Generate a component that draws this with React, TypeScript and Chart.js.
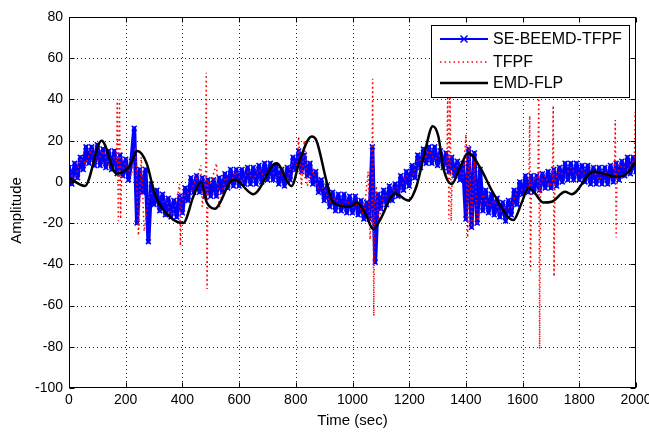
import React, { useEffect, useRef } from "react";
import { Chart, registerables } from "chart.js";

Chart.register(...registerables);

// ---- axis definitions ----
const X_MIN = 0;
const X_MAX = 2000;
const X_STEP = 200;
const Y_MIN = -100;
const Y_MAX = 80;
const Y_STEP = 20;

const X_TITLE = "Time (sec)";
const Y_TITLE = "Amplitude";
const legendLabels = ["SE-BEEMD-TFPF", "TFPF", "EMD-FLP"];

// ---- SE-BEEMD-TFPF (sampled every 10 s, starting at 0) ----
const SE_SAMPLE_STEP = 10;
const seBeemdValues = [
  7, -1, 9, 2, 12, 6, 17, 9, 17, 8,
  18, 8, 16, 7, 15, 6, 15, 4, 13, 3,
  11, 1, 10, 26, -20, 6, -5, 6, -29, -1,
  -11, -4, -14, -6, -16, -8, -17, -9, -17, -7,
  -15, -3, -9, 2, -5, 3, -5, 2, -7, 1,
  -7, 1, -7, 2, -5, 4, -3, 6, -2, 6,
  -2, 6, -1, 7, -1, 7, -1, 8, 0, 9,
  1, 9, 1, 8, -1, 6, -2, 7, 1, 12,
  6, 15, 5, 13, 3, 9, -1, 5, -5, 1,
  -9, -2, -12, -5, -14, -6, -14, -6, -15, -7,
  -15, -7, -16, -9, -18, -10, -18, 17, -39, -6,
  -13, -4, -11, -2, -9, -1, -7, 3, -4, 5,
  -2, 8, 2, 13, 7, 16, 9, 17, 9, 17,
  8, 15, 7, 14, 5, 12, 3, 10, 1, 9,
  -18, 16, -22, 14, -20, 6, -14, -4, -15, -6,
  -16, -8, -17, -10, -19, -9, -16, -4, -11, 0,
  -6, 3, -5, 3, -5, 3, -4, 4, -3, 5,
  -3, 6, -2, 7, 0, 9, 1, 9, 1, 9,
  1, 8, 0, 8, -1, 7, -1, 7, -1, 7,
  -1, 8, 0, 9, 1, 10, 3, 12, 4, 12,
  5,
];

// ---- TFPF ----
const tfpfTime = [
  0, 20, 40, 60, 80, 100, 120, 140, 160, 168,
  170, 174, 178, 182, 186, 200, 220, 235, 245, 255,
  265, 280, 300, 320, 340, 360, 380, 390, 393, 397,
  410, 430, 450, 465, 470, 482, 484, 487, 490, 500,
  520, 530, 550, 570, 590, 610, 630, 650, 670, 690,
  710, 730, 750, 770, 790, 805, 810, 820, 830, 840,
  860, 880, 900, 920, 940, 960, 980, 1000, 1020, 1040,
  1055, 1062, 1068, 1071, 1075, 1078, 1084, 1092, 1110, 1130,
  1150, 1170, 1190, 1210, 1230, 1250, 1270, 1290, 1310, 1325,
  1333, 1336, 1340, 1344, 1348, 1352, 1370, 1390, 1400, 1406,
  1412, 1420, 1430, 1440, 1460, 1480, 1500, 1520, 1540, 1560,
  1580, 1600, 1622, 1625, 1628, 1631, 1645, 1654, 1657, 1660,
  1663, 1680, 1695, 1705, 1708, 1711, 1714, 1730, 1750, 1770,
  1790, 1810, 1830, 1850, 1870, 1890, 1910, 1924, 1927, 1930,
  1933, 1950, 1970, 1990, 1994, 1997, 2000,
];
const tfpfValues = [
  5, 1, 11, 9, 16, 10, 15, 8, 12, 10,
  39, -19, 40, -18, 5, 9, 3, 17, -26, 12,
  -24, -8, -3, -12, -8, -16, -10, -1, -31, -10,
  -6, -5, 2, 8, -12, 0, 53, -52, 0, -1,
  9, -13, 2, 0, 5, 0, 5, 1, 6, 2,
  7, 2, 4, 1, 10, 8, 22, -3, 20, -2,
  5, -3, -3, -10, -8, -12, -9, -13, -10, -16,
  5, -28, -10, 50, -65, -10, -2, -20, -6, -8,
  -3, -3, 3, 2, 11, 10, 15, 11, 13, 8,
  8, 45, -18, 44, -19, 5, 8, 2, 23, -27,
  18, -22, 10, -20, -6, -12, -9, -15, -12, -13,
  -4, -4, -3, 32, -43, -2, 2, 0, 45, -81,
  0, 3, -2, 0, 37, -46, 1, 5, 3, 7,
  3, 6, 2, 5, 1, 5, 2, 3, 30, -27,
  4, 8, 6, 10, 8, 34, 4,
];

// ---- EMD-FLP ----
const emdTime = [
  0, 56, 115, 168, 215, 241, 274, 303, 356, 403, 439, 465, 486, 515, 533, 568, 585, 650, 732, 785,
  815, 856, 873, 909, 932, 991, 1015, 1044, 1074, 1097, 1150, 1197, 1226, 1256, 1283, 1303, 1320, 1350, 1379, 1408,
  1450, 1497, 1568, 1597, 1620, 1644, 1673, 1703, 1750, 1773, 1850, 1885, 1932, 1967, 2000,
];
const emdValues = [
  2, -2, 20, 4, 8, 15, 9, -6, -17, -20, -7, 0, -10, -13, -10, 0, 1, -6, 9, -2,
  11, 22, 20, 0, -10, -12, -10, -15, -23, -18.5, -5.6, -9, -2, 15, 27, 22, 7, -1, 7, 14,
  7, -5.6, -18.5, -10, -3, -5.6, -10, -9.6, -4.8, -6, 5, 4, 2.5, 4, 10,
];

const FONT = '"Liberation Sans", Arial, Helvetica, sans-serif';
const BLUE = "#0000ff";
const RED = "#ff0000";

const matlabAxes = {
  id: "matlabAxes",
  beforeDatasetsDraw(chart: any) {
    const { ctx, chartArea: a, scales } = chart;
    const xs = scales.x;
    const ys = scales.y;
    ctx.save();
    ctx.strokeStyle = "rgba(0,0,0,0.85)";
    ctx.lineWidth = 1;
    ctx.setLineDash([1, 3]);
    xs.ticks.forEach((t: any) => {
      if (t.value <= X_MIN || t.value >= X_MAX) return;
      const px = Math.round(xs.getPixelForValue(t.value)) + 0.5;
      ctx.beginPath();
      ctx.moveTo(px, a.top);
      ctx.lineTo(px, a.bottom);
      ctx.stroke();
    });
    ys.ticks.forEach((t: any) => {
      if (t.value <= Y_MIN || t.value >= Y_MAX) return;
      const py = Math.round(ys.getPixelForValue(t.value)) + 0.5;
      ctx.beginPath();
      ctx.moveTo(a.left, py);
      ctx.lineTo(a.right, py);
      ctx.stroke();
    });
    ctx.restore();
  },
  afterDatasetsDraw(chart: any) {
    const { ctx, chartArea: a, scales } = chart;
    const xs = scales.x;
    const ys = scales.y;
    ctx.save();
    ctx.setLineDash([]);
    ctx.strokeStyle = "#000";
    ctx.lineWidth = 1;
    const L = Math.round(a.left) + 0.5;
    const R = Math.round(a.right) - 0.5;
    const T = Math.round(a.top) + 0.5;
    const B = Math.round(a.bottom) - 0.5;
    ctx.strokeRect(L, T, R - L, B - T);
    const tl = 5;
    xs.ticks.forEach((t: any) => {
      const px = Math.round(xs.getPixelForValue(t.value)) + 0.5;
      ctx.beginPath();
      ctx.moveTo(px, B);
      ctx.lineTo(px, B - tl);
      ctx.moveTo(px, T);
      ctx.lineTo(px, T + tl);
      ctx.stroke();
    });
    ys.ticks.forEach((t: any) => {
      const py = Math.round(ys.getPixelForValue(t.value)) + 0.5;
      ctx.beginPath();
      ctx.moveTo(L, py);
      ctx.lineTo(L + tl, py);
      ctx.moveTo(R, py);
      ctx.lineTo(R - tl, py);
      ctx.stroke();
    });

    // axis titles
    ctx.fillStyle = "#000";
    ctx.font = `15px ${FONT}`;
    ctx.textAlign = "center";
    ctx.textBaseline = "middle";
    ctx.fillText(X_TITLE, (a.left + a.right) / 2, a.bottom + 33);
    ctx.save();
    ctx.translate(17, (a.top + a.bottom) / 2 + 8);
    ctx.rotate(-Math.PI / 2);
    ctx.fillText(Y_TITLE, 0, 0);
    ctx.restore();

    // legend box
    const lw = 198;
    const lh = 72;
    const lx = Math.round(a.right) - 7 - lw;
    const ly = Math.round(a.top) + 8;
    ctx.fillStyle = "#fff";
    ctx.fillRect(lx, ly, lw, lh);
    ctx.strokeStyle = "#000";
    ctx.strokeRect(lx + 0.5, ly + 0.5, lw, lh);
    const rows = [ly + 14, ly + 37, ly + 58];
    const sx0 = lx + 9;
    const sx1 = lx + 57;
    // row 1: blue line with x marker
    ctx.strokeStyle = BLUE;
    ctx.lineWidth = 2;
    ctx.beginPath();
    ctx.moveTo(sx0, rows[0]);
    ctx.lineTo(sx1, rows[0]);
    ctx.stroke();
    const mx = (sx0 + sx1) / 2;
    ctx.lineWidth = 1.5;
    ctx.beginPath();
    ctx.moveTo(mx - 3.5, rows[0] - 3.5);
    ctx.lineTo(mx + 3.5, rows[0] + 3.5);
    ctx.moveTo(mx - 3.5, rows[0] + 3.5);
    ctx.lineTo(mx + 3.5, rows[0] - 3.5);
    ctx.stroke();
    // row 2: red dotted
    ctx.strokeStyle = RED;
    ctx.lineWidth = 1.5;
    ctx.setLineDash([1.5, 3]);
    ctx.beginPath();
    ctx.moveTo(sx0, rows[1]);
    ctx.lineTo(sx1, rows[1]);
    ctx.stroke();
    ctx.setLineDash([]);
    // row 3: black solid
    ctx.strokeStyle = "#000";
    ctx.lineWidth = 2.5;
    ctx.beginPath();
    ctx.moveTo(sx0, rows[2]);
    ctx.lineTo(sx1, rows[2]);
    ctx.stroke();
    ctx.fillStyle = "#000";
    ctx.font = `16px ${FONT}`;
    ctx.textAlign = "left";
    ctx.textBaseline = "middle";
    legendLabels.forEach((lab, i) => ctx.fillText(lab, lx + 62, rows[i] + 1));
    ctx.restore();
  },
};

export default function App() {
  const ref = useRef<HTMLCanvasElement | null>(null);
  useEffect(() => {
    document.body.style.margin = "0";
    const canvas = ref.current;
    if (!canvas) return;
    const seData = seBeemdValues.map((v, i) => ({ x: i * SE_SAMPLE_STEP, y: v }));
    const tfpfData = tfpfTime.map((t, i) => ({ x: t, y: tfpfValues[i] }));
    const emdData = emdTime.map((t, i) => ({ x: t, y: emdValues[i] }));
    const chart = new Chart(canvas, {
      type: "line",
      data: {
        datasets: [
          {
            label: legendLabels[0],
            data: seData,
            borderColor: BLUE,
            backgroundColor: BLUE,
            borderWidth: 4,
            borderJoinStyle: "round",
            borderCapStyle: "round",
            pointStyle: "crossRot",
            pointRadius: 3.5,
            pointBorderWidth: 1.5,
            pointBorderColor: BLUE,
            tension: 0,
            order: 2,
          },
          {
            label: legendLabels[1],
            data: tfpfData,
            borderColor: RED,
            borderWidth: 1.5,
            borderDash: [1.5, 3],
            borderJoinStyle: "bevel",
            pointRadius: 0,
            tension: 0,
            order: 1,
          },
          {
            label: legendLabels[2],
            data: emdData,
            borderColor: "#000",
            borderWidth: 2.5,
            borderJoinStyle: "round",
            pointRadius: 0,
            cubicInterpolationMode: "monotone",
            order: 0,
          },
        ],
      },
      options: {
        animation: false,
        responsive: false,
        events: [],
        layout: { padding: { left: 0, right: 13, top: 17, bottom: 0 } },
        plugins: { legend: { display: false }, tooltip: { enabled: false } },
        scales: {
          x: {
            type: "linear",
            min: X_MIN,
            max: X_MAX,
            grid: { display: false, drawTicks: false },
            border: { display: false },
            ticks: {
              stepSize: X_STEP,
              autoSkip: false,
              maxRotation: 0,
              padding: 4,
              color: "#000",
              font: { family: FONT, size: 14 },
              callback: (v: any) => String(v),
            },
            afterFit: (s: any) => {
              s.height = 45;
              s.paddingLeft = 0;
              s.paddingRight = 0;
            },
          },
          y: {
            type: "linear",
            min: Y_MIN,
            max: Y_MAX,
            grid: { display: false, drawTicks: false },
            border: { display: false },
            ticks: {
              stepSize: Y_STEP,
              autoSkip: false,
              padding: 6,
              color: "#000",
              font: { family: FONT, size: 14 },
              callback: (v: any) => String(v),
            },
            afterFit: (s: any) => {
              s.width = 69;
              s.paddingTop = 0;
              s.paddingBottom = 0;
            },
          },
        },
      },
      plugins: [matlabAxes],
    });
    return () => chart.destroy();
  }, []);
  return (
    <div style={{ width: 649, height: 433, background: "#fff" }}>
      <canvas ref={ref} width={649} height={433} style={{ display: "block" }} />
    </div>
  );
}
